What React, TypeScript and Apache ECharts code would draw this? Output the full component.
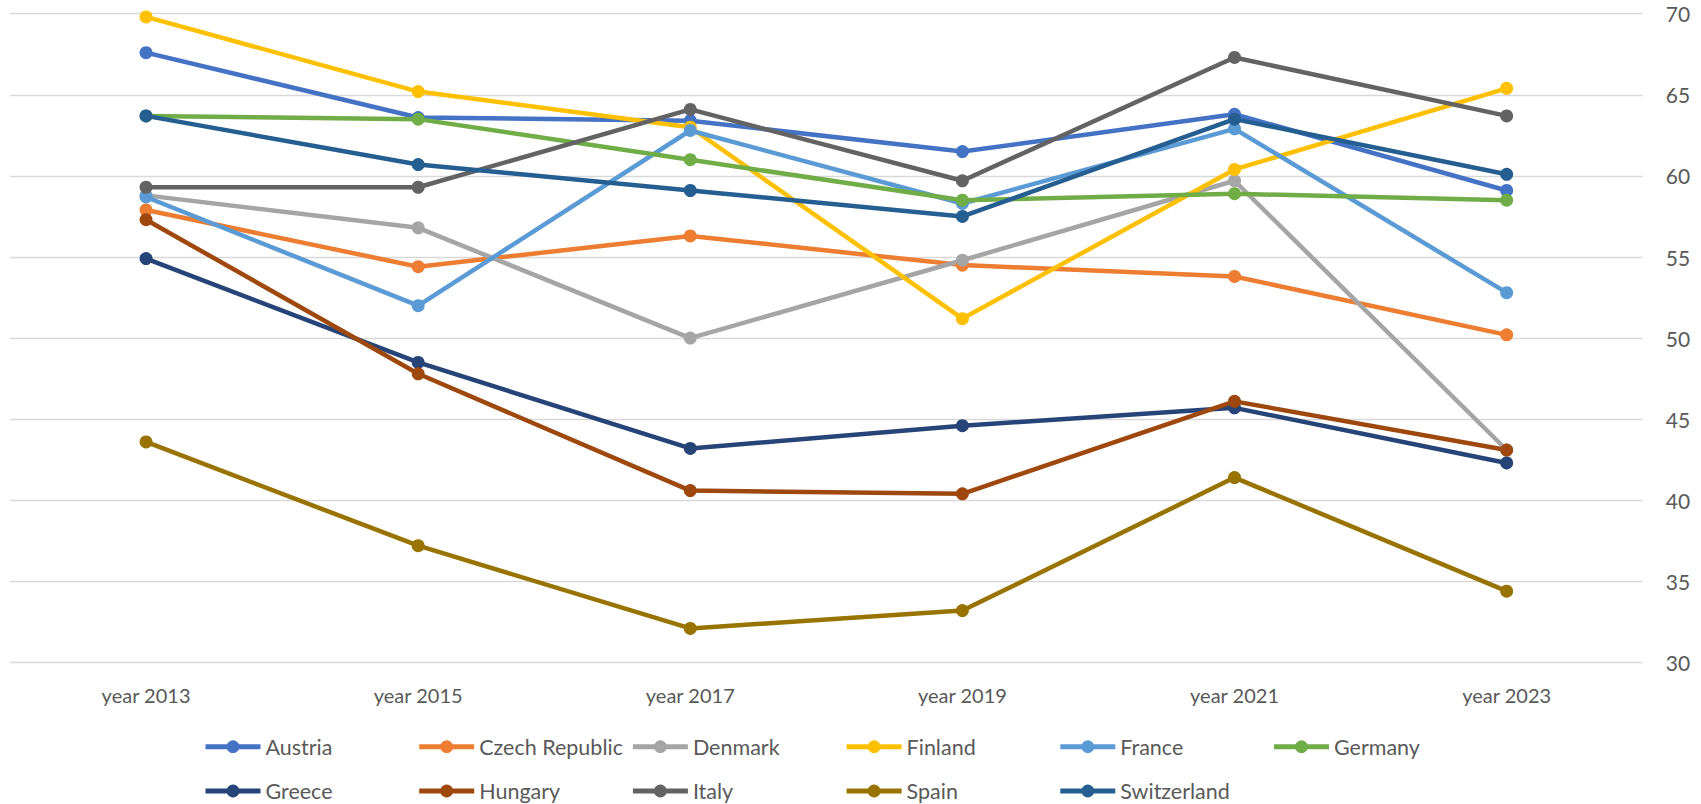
import React, { useEffect, useRef } from "react";
import * as echarts from "echarts";

const categories = ["year 2013", "year 2015", "year 2017", "year 2019", "year 2021", "year 2023"];
const yTicks = [30, 35, 40, 45, 50, 55, 60, 65, 70];

const seriesNames = [
  "Austria", "Czech Republic", "Denmark", "Finland", "France", "Germany",
  "Greece", "Hungary", "Italy", "Spain", "Switzerland",
];
const seriesColors = [
  "#4472C4", "#ED7D31", "#A5A5A5", "#FFC000", "#5B9BD5", "#70AD47",
  "#264478", "#9E480E", "#636363", "#997300", "#255E91",
];

const austria = [67.6, 63.6, 63.4, 61.5, 63.8, 59.1];
const czechRepublic = [57.9, 54.4, 56.3, 54.5, 53.8, 50.2];
const denmark = [58.8, 56.8, 50.0, 54.8, 59.7, 43.1];
const finland = [69.8, 65.2, 63.0, 51.2, 60.4, 65.4];
const france = [58.7, 52.0, 62.8, 58.3, 62.9, 52.8];
const germany = [63.7, 63.5, 61.0, 58.5, 58.9, 58.5];
const greece = [54.9, 48.5, 43.2, 44.6, 45.7, 42.3];
const hungary = [57.3, 47.8, 40.6, 40.4, 46.1, 43.1];
const italy = [59.3, 59.3, 64.1, 59.7, 67.3, 63.7];
const spain = [43.6, 37.2, 32.1, 33.2, 41.4, 34.4];
const switzerland = [63.7, 60.7, 59.1, 57.5, 63.5, 60.1];

const seriesValues = [
  austria, czechRepublic, denmark, finland, france, germany,
  greece, hungary, italy, spain, switzerland,
];

const FONT = "Lato";
const TEXT_COLOR = "#595959";

export default function App() {
  const ref = useRef<HTMLDivElement>(null);

  useEffect(() => {
    if (!ref.current) return;
    const chart = echarts.init(ref.current, undefined, { renderer: "svg" });

    const legendCols = [203, 416.7, 630.4, 844.1, 1057.8, 1271.5];
    const legendRows = [746.7, 791];
    const legends = seriesNames.map((name, i) => ({
      data: [name],
      left: legendCols[i % 6],
      top: legendRows[Math.floor(i / 6)] - 12,
      padding: 0,
      itemWidth: 55,
      itemHeight: 16,
      selectedMode: false,
      lineStyle: { width: 5 },
      textStyle: { fontFamily: FONT, fontSize: 21.5, color: TEXT_COLOR, lineHeight: 24 },
    }));

    chart.setOption({
      animation: false,
      backgroundColor: "#ffffff",
      grid: { left: 10, right: 58.3, top: 13.7, bottom: 141.5, containLabel: false },
      legend: legends,
      xAxis: {
        type: "category",
        data: categories,
        boundaryGap: true,
        axisLine: { show: false },
        axisTick: { show: false },
        axisLabel: { fontFamily: FONT, fontSize: 20, color: TEXT_COLOR, margin: 22 },
      },
      yAxis: {
        type: "value",
        position: "right",
        min: yTicks[0],
        max: yTicks[yTicks.length - 1],
        interval: 5,
        axisLine: { show: false },
        axisTick: { show: false },
        axisLabel: { fontFamily: FONT, fontSize: 21, color: TEXT_COLOR, margin: 23 },
        splitLine: { lineStyle: { color: "#d9d9d9", width: 1.3 } },
      },
      series: seriesNames.map((name, i) => ({
        name,
        type: "line",
        data: seriesValues[i],
        symbol: "circle",
        symbolSize: 13,
        showSymbol: true,
        color: seriesColors[i],
        lineStyle: { width: 4.5, color: seriesColors[i] },
        itemStyle: { color: seriesColors[i] },
      })),
    });

    return () => chart.dispose();
  }, []);

  return (
    <div
      ref={ref}
      style={{ position: "fixed", left: 0, top: 0, width: 1701, height: 804, background: "#fff" }}
    />
  );
}
